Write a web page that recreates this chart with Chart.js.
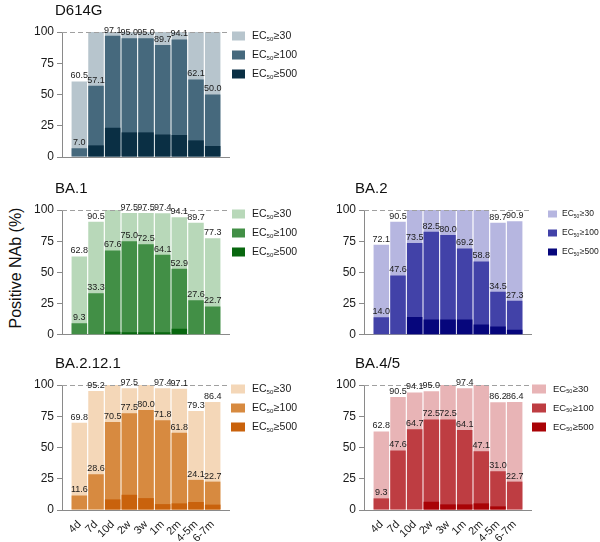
<!DOCTYPE html>
<html>
<head>
<meta charset="utf-8">
<script src="https://cdn.jsdelivr.net/npm/chart.js@4.4.0/dist/chart.umd.min.js"></script>
<style>
  body { margin: 0; background: #fff; }
  #wrap { position: relative; width: 600px; height: 542px; overflow: hidden; font-family: "Liberation Sans", Arial, sans-serif; }
  #wrap canvas { position: absolute; }
  #ytitle { position: absolute; left: -84px; top: 258px; width: 200px; height: 20px; line-height: 20px;
            text-align: center; font-size: 16px; color: #111; transform: rotate(-90deg); white-space: nowrap; }
</style>
</head>
<body>
<div id="wrap">
  <div id="ytitle">Positive NAb (%)</div>
</div>
<script>
// --- DATA ---
const categories = ['4d', '7d', '10d', '2w', '3w', '1m', '2m', '4-5m', '6-7m'];
const yTicks = [0, 25, 50, 75, 100];
const thresholds = ['30', '100', '500'];

const d614gGe30  = [60.5, 100, 100, 100, 100, 100, 100, 100, 100];
const d614gGe100 = [7.0, 57.1, 97.1, 95.0, 95.0, 89.7, 94.1, 62.1, 50.0];
const d614gGe500 = [0, 9.3, 23.4, 19.7, 19.7, 18.0, 17.6, 13.3, 8.8];

const ba1Ge30  = [62.8, 90.5, 100, 97.5, 97.5, 97.4, 94.1, 89.7, 77.3];
const ba1Ge100 = [9.3, 33.3, 67.6, 75.0, 72.5, 64.1, 52.9, 27.6, 22.7];
const ba1Ge500 = [0, 0, 2.4, 2.0, 2.0, 2.0, 4.8, 0, 0];

const ba2Ge30  = [72.1, 90.5, 100, 100, 100, 100, 100, 89.7, 90.9];
const ba2Ge100 = [14.0, 47.6, 73.5, 82.5, 80.0, 69.2, 58.8, 34.5, 27.3];
const ba2Ge500 = [0, 0, 14.3, 12.2, 12.2, 12.2, 8.2, 6.7, 4.1];

const ba2121Ge30  = [69.8, 95.2, 100, 97.5, 100, 97.4, 97.1, 79.3, 86.4];
const ba2121Ge100 = [11.6, 28.6, 70.5, 77.5, 80.0, 71.8, 61.8, 24.1, 22.7];
const ba2121Ge500 = [0, 0, 8.5, 12.2, 9.5, 4.7, 5.3, 6.4, 4.3];

const ba45Ge30  = [62.8, 90.5, 94.1, 95.0, 100, 97.4, 100, 86.2, 86.4];
const ba45Ge100 = [9.3, 47.6, 64.7, 72.5, 72.5, 64.1, 47.1, 31.0, 22.7];
const ba45Ge500 = [0, 0, 0, 6.6, 4.5, 4.5, 5.3, 2.9, 0];

// --- PANELS ---
const FONT = '"Liberation Sans", Arial, sans-serif';
const panels = [
  { title: 'D614G', x: 0, y: 0, h: 170, padTop: 32, padBottom: 13, padLeft: 22, padRight: 71, xLabels: false,
    series: [d614gGe30, d614gGe100, d614gGe500], colors: ['#b7c5cd', '#46697d', '#0a2f44'],
    legendX: 232, legendW: 13, legendH: 9, textX: 252, legendFont: 10.5 },
  { title: 'BA.1', x: 0, y: 170, h: 175, padTop: 40, padBottom: 10, padLeft: 22, padRight: 71, xLabels: false,
    series: [ba1Ge30, ba1Ge100, ba1Ge500], colors: ['#b8d8b9', '#428f46', '#08670f'],
    legendX: 232, legendW: 13, legendH: 9, textX: 252, legendFont: 10.5 },
  { title: 'BA.2', x: 300, y: 170, h: 175, padTop: 40, padBottom: 10, padLeft: 24, padRight: 69, xLabels: false,
    series: [ba2Ge30, ba2Ge100, ba2Ge500], colors: ['#b6b6e0', '#4242a8', '#06067c'],
    legendX: 248, legendW: 9, legendH: 7, textX: 262, legendFont: 8.5 },
  { title: 'BA.2.12.1', x: 0, y: 345, h: 197, padTop: 40, padBottom: 0, padLeft: 22, padRight: 71, xLabels: true,
    series: [ba2121Ge30, ba2121Ge100, ba2121Ge500], colors: ['#f4d7b8', '#d78a40', '#c9620c'],
    legendX: 231, legendW: 14, legendH: 9, textX: 252, legendFont: 10.5 },
  { title: 'BA.4/5', x: 300, y: 345, h: 197, padTop: 40, padBottom: 0, padLeft: 24, padRight: 69, xLabels: true,
    series: [ba45Ge30, ba45Ge100, ba45Ge500], colors: ['#e8b4b6', '#be3d42', '#a90306'],
    legendX: 232, legendW: 14, legendH: 9, textX: 253, legendFont: 9.5 }
];

const overlayPlugin = {
  id: 'overlay',
  afterDatasetsDraw(chart, args, opts) {
    const { ctx, chartArea, scales } = chart;
    // dashed 100% line
    const y100 = scales.y.getPixelForValue(100);
    ctx.save();
    ctx.strokeStyle = '#a0a0a0';
    ctx.lineWidth = 1;
    ctx.setLineDash([5, 3]);
    ctx.beginPath();
    ctx.moveTo(chartArea.left, y100 + 0.5);
    ctx.lineTo(chartArea.right, y100 + 0.5);
    ctx.stroke();
    ctx.setLineDash([]);

    // value labels: >=30 when below 100, >=100 always
    ctx.font = '9px ' + FONT;
    ctx.fillStyle = '#1a1a1a';
    ctx.textAlign = 'center';
    ctx.textBaseline = 'bottom';
    [0, 1].forEach(di => {
      const meta = chart.getDatasetMeta(di);
      const vals = chart.data.datasets[di].data;
      meta.data.forEach((el, i) => {
        const v = vals[i].y;
        if (di === 0 && v >= 100) return;
        ctx.fillText(v.toFixed(1), el.x, el.y - 1);
      });
    });
    ctx.restore();
  },
  afterDraw(chart, args, opts) {
    const { ctx, chartArea } = chart;
    ctx.save();
    // title
    ctx.font = '15px ' + FONT;
    ctx.fillStyle = '#111';
    ctx.textAlign = 'left';
    ctx.textBaseline = 'alphabetic';
    ctx.fillText(opts.title, 55, chartArea.top - 17);

    // legend
    const rows = [4, 23, 42];
    const fs = opts.legendFont;
    rows.forEach((dy, i) => {
      const cy = chartArea.top + dy;
      ctx.fillStyle = opts.colors[i];
      ctx.fillRect(opts.legendX, cy - opts.legendH / 2, opts.legendW, opts.legendH);
      ctx.fillStyle = '#1a1a1a';
      ctx.textBaseline = 'middle';
      let x = opts.textX;
      ctx.font = fs + 'px ' + FONT;
      ctx.fillText('EC', x, cy);
      x += ctx.measureText('EC').width;
      ctx.font = (fs * 0.58) + 'px ' + FONT;
      ctx.fillText('50', x, cy + fs * 0.28);
      x += ctx.measureText('50').width + 0.5;
      ctx.font = fs + 'px ' + FONT;
      ctx.fillText('\u2265' + thresholds[i], x, cy);
    });
    ctx.restore();
  }
};

const wrap = document.getElementById('wrap');
panels.forEach(p => {
  const canvas = document.createElement('canvas');
  canvas.width = 300;
  canvas.height = p.h;
  canvas.style.left = p.x + 'px';
  canvas.style.top = p.y + 'px';
  canvas.style.width = '300px';
  canvas.style.height = p.h + 'px';
  wrap.appendChild(canvas);

  const order = [3, 2, 1];
  new Chart(canvas, {
    type: 'bar',
    data: {
      datasets: p.series.map((vals, k) => ({
        label: 'EC50\u2265' + thresholds[k],
        data: vals.map((v, i) => ({ x: i, y: v })),
        backgroundColor: p.colors[k],
        borderWidth: 0,
        grouped: false,
        order: order[k],
        barPercentage: 0.93,
        categoryPercentage: 1
      }))
    },
    options: {
      responsive: false,
      devicePixelRatio: 1,
      animation: false,
      layout: { padding: { top: p.padTop, bottom: p.padBottom, left: p.padLeft, right: p.padRight } },
      plugins: {
        legend: { display: false },
        tooltip: { enabled: false },
        overlay: { title: p.title, colors: p.colors, legendX: p.legendX, legendW: p.legendW,
                   legendH: p.legendH, textX: p.textX, legendFont: p.legendFont }
      },
      scales: {
        x: {
          type: 'linear',
          offset: false,
          min: -1.04,
          max: 8.98,
          afterBuildTicks: s => { s.ticks = categories.map((c, i) => ({ value: i })); },
          afterFit: s => { s.height = p.xLabels ? 32 : 0; },
          grid: { display: false },
          border: { display: true, color: '#8a8a8a', width: 1 },
          ticks: {
            display: p.xLabels,
            autoSkip: false,
            minRotation: 45,
            maxRotation: 45,
            padding: 0,
            color: '#1a1a1a',
            font: { family: FONT, size: 11 },
            callback: v => categories[v]
          }
        },
        y: {
          min: 0,
          max: 100,
          afterBuildTicks: s => { s.ticks = yTicks.map(v => ({ value: v })); },
          afterFit: s => { s.width = 40; },
          grid: { drawOnChartArea: false, drawTicks: true, tickLength: 5, color: '#8a8a8a' },
          border: { display: true, color: '#8a8a8a', width: 1 },
          ticks: { padding: 3, color: '#1a1a1a', font: { family: FONT, size: 12 } }
        }
      }
    },
    plugins: [overlayPlugin]
  });
});
</script>
</body>
</html>
